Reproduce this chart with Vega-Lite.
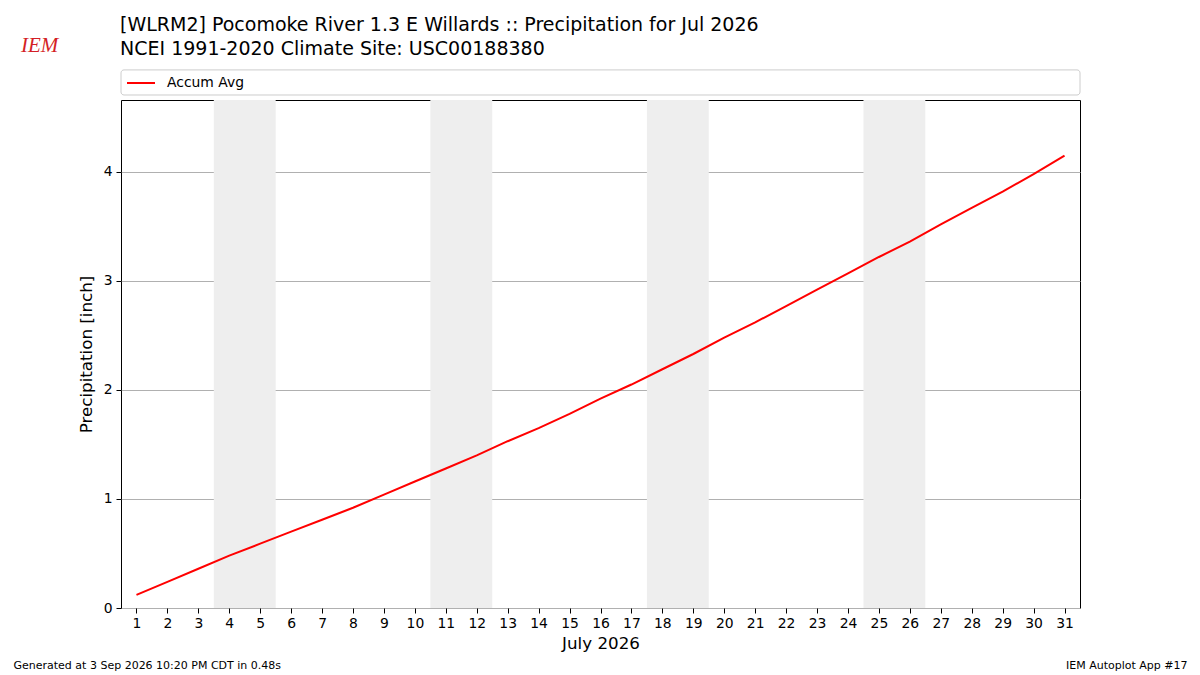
{
  "$schema": "https://vega.github.io/schema/vega-lite/v6.json",
  "autosize": {"type": "none"},
  "width": 959,
  "height": 508,
  "padding": {"left": 121, "top": 100, "right": 120, "bottom": 67},
  "background": "white",
  "config": {
    "font": "DejaVu Sans",
    "view": {"stroke": "black", "strokeWidth": 1},
    "axis": {
      "labelFont": "DejaVu Sans",
      "titleFont": "DejaVu Sans",
      "labelColor": "black",
      "titleColor": "black",
      "labelFontSize": 13.9,
      "titleFontSize": 16.7,
      "titleFontWeight": "normal",
      "tickColor": "black",
      "tickSize": 5,
      "tickWidth": 1,
      "domain": false
    },
    "axisX": {"labelOverlap": false, "labelSeparation": 0, "tickCount": 40}
  },
  "title": {
    "text": [
      "[WLRM2] Pocomoke River 1.3 E Willards :: Precipitation for Jul 2026",
      "NCEI 1991-2020 Climate Site: USC00188380"
    ],
    "anchor": "start",
    "frame": "group",
    "font": "DejaVu Sans",
    "fontSize": 19,
    "fontWeight": "normal",
    "color": "black",
    "lineHeight": 24.5,
    "offset": -24,
    "dx": -1
  },
  "datasets": {
    "accum": [
      {"day": 1, "precip": 0.12, "series": "Accum Avg"},
      {"day": 2, "precip": 0.24, "series": "Accum Avg"},
      {"day": 3, "precip": 0.36, "series": "Accum Avg"},
      {"day": 4, "precip": 0.48, "series": "Accum Avg"},
      {"day": 5, "precip": 0.59, "series": "Accum Avg"},
      {"day": 6, "precip": 0.70, "series": "Accum Avg"},
      {"day": 7, "precip": 0.81, "series": "Accum Avg"},
      {"day": 8, "precip": 0.92, "series": "Accum Avg"},
      {"day": 9, "precip": 1.04, "series": "Accum Avg"},
      {"day": 10, "precip": 1.16, "series": "Accum Avg"},
      {"day": 11, "precip": 1.28, "series": "Accum Avg"},
      {"day": 12, "precip": 1.40, "series": "Accum Avg"},
      {"day": 13, "precip": 1.53, "series": "Accum Avg"},
      {"day": 14, "precip": 1.65, "series": "Accum Avg"},
      {"day": 15, "precip": 1.78, "series": "Accum Avg"},
      {"day": 16, "precip": 1.92, "series": "Accum Avg"},
      {"day": 17, "precip": 2.05, "series": "Accum Avg"},
      {"day": 18, "precip": 2.19, "series": "Accum Avg"},
      {"day": 19, "precip": 2.33, "series": "Accum Avg"},
      {"day": 20, "precip": 2.48, "series": "Accum Avg"},
      {"day": 21, "precip": 2.62, "series": "Accum Avg"},
      {"day": 22, "precip": 2.77, "series": "Accum Avg"},
      {"day": 23, "precip": 2.92, "series": "Accum Avg"},
      {"day": 24, "precip": 3.07, "series": "Accum Avg"},
      {"day": 25, "precip": 3.22, "series": "Accum Avg"},
      {"day": 26, "precip": 3.36, "series": "Accum Avg"},
      {"day": 27, "precip": 3.52, "series": "Accum Avg"},
      {"day": 28, "precip": 3.67, "series": "Accum Avg"},
      {"day": 29, "precip": 3.82, "series": "Accum Avg"},
      {"day": 30, "precip": 3.98, "series": "Accum Avg"},
      {"day": 31, "precip": 4.15, "series": "Accum Avg"}
    ],
    "weekends": [
      {"start": 3.5, "end": 5.5},
      {"start": 10.5, "end": 12.5},
      {"start": 17.5, "end": 19.5},
      {"start": 24.5, "end": 26.5}
    ],
    "legendbox": [
      {"box": "legend"}
    ],
    "footer": [
      {"text": "Generated at 3 Sep 2026 10:20 PM CDT in 0.48s"}
    ],
    "footer2": [
      {"text": "IEM Autoplot App #17"}
    ],
    "logo": [
      {"text": "IEM"}
    ]
  },
  "layer": [
    {
      "data": {"name": "weekends"},
      "mark": {"type": "rect", "color": "#eeeeee"},
      "encoding": {
        "x": {
          "field": "start",
          "type": "quantitative",
          "scale": {"domain": [0.5, 31.5], "nice": false, "zero": false},
          "axis": {
            "title": "July 2026",
            "values": [1,2,3,4,5,6,7,8,9,10,11,12,13,14,15,16,17,18,19,20,21,22,23,24,25,26,27,28,29,30,31],
            "tickCount": 40,
            "grid": false,
            "labelOverlap": false,
            "labelPadding": 3,
            "titlePadding": 6
          }
        },
        "x2": {"field": "end"}
      }
    },
    {
      "data": {"name": "legendbox"},
      "mark": {"type": "rect", "fill": "white", "stroke": "#cccccc", "strokeWidth": 1, "cornerRadius": 3},
      "encoding": {
        "x": {"datum": 0.5},
        "x2": {"datum": 31.5},
        "y": {"datum": 4.706},
        "y2": {"datum": 4.936}
      }
    },
    {
      "data": {"name": "accum"},
      "mark": {"type": "line", "strokeWidth": 2},
      "encoding": {
        "x": {
          "field": "day",
          "type": "quantitative",
          "axis": {
            "title": "July 2026",
            "values": [1,2,3,4,5,6,7,8,9,10,11,12,13,14,15,16,17,18,19,20,21,22,23,24,25,26,27,28,29,30,31],
            "tickCount": 40,
            "grid": false,
            "labelOverlap": false,
            "labelPadding": 3,
            "titlePadding": 6
          }
        },
        "y": {
          "field": "precip",
          "type": "quantitative",
          "scale": {"domain": [0, 4.66], "nice": false, "zero": true},
          "axis": {
            "title": "Precipitation [inch]",
            "values": [0, 1, 2, 3, 4],
            "format": "d",
            "grid": true,
            "gridColor": "#b0b0b0",
            "gridWidth": 1,
            "labelPadding": 4,
            "titlePadding": 8
          }
        },
        "color": {
          "field": "series",
          "type": "nominal",
          "scale": {"range": ["red"]},
          "legend": {
            "title": null,
            "orient": "none",
            "legendX": 5,
            "legendY": -32,
            "direction": "vertical",
            "symbolType": "stroke",
            "symbolSize": 784,
            "symbolStrokeWidth": 2,
            "labelFont": "DejaVu Sans",
            "labelFontSize": 13.9,
            "labelColor": "black",
            "labelOffset": 11,
            "padding": 0
          }
        }
      }
    },
    {
      "data": {"name": "footer"},
      "mark": {"type": "text", "align": "left", "baseline": "alphabetic", "fontSize": 11, "font": "DejaVu Sans", "color": "black", "dx": -107.5},
      "encoding": {
        "x": {"datum": 0.5},
        "y": {"datum": -0.56},
        "text": {"field": "text"}
      }
    },
    {
      "data": {"name": "footer2"},
      "mark": {"type": "text", "align": "right", "baseline": "alphabetic", "fontSize": 11, "font": "DejaVu Sans", "color": "black", "dx": 107.5},
      "encoding": {
        "x": {"datum": 31.5},
        "y": {"datum": -0.56},
        "text": {"field": "text"}
      }
    },
    {
      "data": {"name": "logo"},
      "mark": {"type": "text", "align": "left", "baseline": "alphabetic", "fontSize": 21, "font": "Liberation Serif", "fontStyle": "italic", "color": "#d41f26", "dx": -100},
      "encoding": {
        "x": {"datum": 0.5},
        "y": {"datum": 5.1},
        "text": {"field": "text"}
      }
    }
  ]
}
